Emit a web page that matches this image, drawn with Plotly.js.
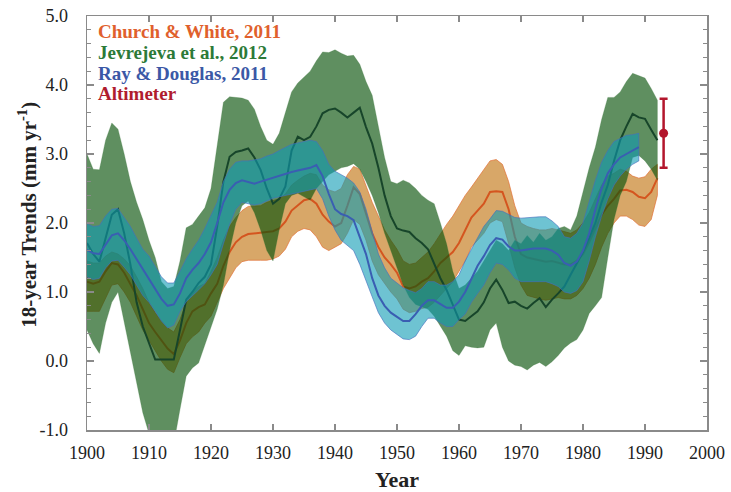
<!DOCTYPE html>
<html>
<head>
<meta charset="utf-8">
<script src="https://cdn.plot.ly/plotly-3.0.1.min.js"></script>
<style>html,body{margin:0;padding:0;background:#fff;}#chart{width:731px;height:492px;}</style>
</head>
<body>
<div id="chart"></div>
<script>
// ---------- data (18-year trends, mm/yr) ----------
const yearsLong = [1900,1901,1902,1903,1904,1905,1906,1907,1908,1909,1910,1911,1912,1913,1914,1915,1916,1917,1918,1919,1920,1921,1922,1923,1924,1925,1926,1927,1928,1929,1930,1931,1932,1933,1934,1935,1936,1937,1938,1939,1940,1941,1942,1943,1944,1945,1946,1947,1948,1949,1950,1951,1952,1953,1954,1955,1956,1957,1958,1959,1960,1961,1962,1963,1964,1965,1966,1967,1968,1969,1970,1971,1972,1973,1974,1975,1976,1977,1978,1979,1980,1981,1982,1983,1984,1985,1986,1987,1988,1989,1990,1991,1992];
const yearsRD = [1900,1901,1902,1903,1904,1905,1906,1907,1908,1909,1910,1911,1912,1913,1914,1915,1916,1917,1918,1919,1920,1921,1922,1923,1924,1925,1926,1927,1928,1929,1930,1931,1932,1933,1934,1935,1936,1937,1938,1939,1940,1941,1942,1943,1944,1945,1946,1947,1948,1949,1950,1951,1952,1953,1954,1955,1956,1957,1958,1959,1960,1961,1962,1963,1964,1965,1966,1967,1968,1969,1970,1971,1972,1973,1974,1975,1976,1977,1978,1979,1980,1981,1982,1983,1984,1985,1986,1987,1988,1989];

// Church & White, 2011
const cwMid = [1.15,1.12,1.15,1.30,1.42,1.40,1.28,1.12,0.95,0.75,
  0.55,0.42,0.30,0.18,0.10,0.30,0.55,0.72,0.78,0.82,
  0.98,1.12,1.38,1.58,1.72,1.80,1.84,1.85,1.85,1.86,
  1.88,1.92,2.02,2.18,2.26,2.33,2.35,2.28,2.12,2.02,
  1.95,2.00,2.25,2.52,2.42,2.15,1.85,1.65,1.50,1.40,
  1.28,1.08,1.05,1.08,1.15,1.20,1.30,1.42,1.50,1.58,
  1.71,1.90,2.08,2.18,2.28,2.45,2.46,2.45,2.20,1.80,
  1.55,1.50,1.48,1.45,1.44,1.45,1.43,1.40,1.40,1.45,
  1.55,1.72,1.92,2.12,2.25,2.35,2.47,2.48,2.45,2.38,
  2.36,2.45,2.65];
const cwLow = [0.72,0.72,0.72,0.90,1.10,1.12,1.00,0.85,0.65,0.45,
  0.30,0.15,0.00,-0.12,-0.17,0.05,0.25,0.35,0.42,0.55,
  0.65,0.85,1.05,1.20,1.35,1.44,1.46,1.46,1.46,1.46,
  1.48,1.52,1.62,1.80,1.88,1.92,1.90,1.80,1.65,1.60,
  1.65,1.70,1.85,2.05,1.98,1.75,1.45,1.25,1.12,1.00,
  0.90,0.75,0.70,0.72,0.76,0.78,0.85,0.95,1.05,1.15,
  1.30,1.45,1.65,1.75,1.85,2.00,2.05,2.02,1.70,1.35,
  1.10,0.95,0.92,0.90,0.88,0.90,0.92,0.90,0.90,0.95,
  1.05,1.20,1.40,1.65,1.85,2.00,2.10,2.10,2.05,1.97,
  1.95,2.05,2.40];
const cwHigh = [1.45,1.42,1.42,1.52,1.58,1.55,1.48,1.38,1.22,1.05,
  0.85,0.70,0.58,0.48,0.42,0.60,0.85,1.00,1.08,1.12,
  1.30,1.50,1.75,1.95,2.08,2.18,2.24,2.24,2.25,2.30,
  2.32,2.35,2.42,2.55,2.62,2.68,2.72,2.70,2.55,2.48,
  2.45,2.50,2.70,2.82,2.78,2.55,2.30,2.10,1.90,1.75,
  1.62,1.45,1.40,1.42,1.50,1.58,1.70,1.85,1.98,2.10,
  2.25,2.40,2.52,2.65,2.78,2.90,2.92,2.85,2.60,2.25,
  2.00,1.95,1.92,1.90,1.90,1.92,1.90,1.88,1.85,1.90,
  2.00,2.15,2.35,2.55,2.68,2.72,2.78,2.75,2.68,2.65,
  2.67,2.78,2.85];

// Jevrejeva et al., 2012
const jvMid = [1.71,1.55,1.44,1.80,2.12,2.20,1.85,1.40,0.85,0.50,
  0.25,0.02,0.02,0.02,0.02,0.45,0.89,1.00,1.13,1.22,
  1.40,1.95,2.60,2.96,3.03,3.05,3.08,2.95,2.77,2.50,
  2.28,2.35,2.53,3.05,3.25,3.20,3.25,3.40,3.59,3.64,
  3.66,3.60,3.53,3.60,3.67,3.39,3.15,2.80,2.40,2.10,
  1.92,1.89,1.87,1.78,1.71,1.62,1.40,1.20,1.03,0.82,
  0.60,0.58,0.65,0.72,0.85,1.05,1.18,1.03,0.84,0.86,
  0.80,0.76,0.84,0.91,0.78,0.89,0.98,1.08,1.25,1.42,
  1.58,1.78,2.00,2.30,2.55,2.90,3.20,3.40,3.58,3.53,
  3.51,3.35,3.20];
const jvLow = [0.45,0.25,0.11,0.55,0.85,1.00,0.55,0.10,-0.30,-0.75,
  -1.05,-1.30,-1.40,-1.40,-1.20,-0.70,-0.22,-0.10,-0.03,0.25,
  0.50,0.75,1.10,1.60,2.00,2.25,2.32,2.15,1.90,1.60,
  1.45,1.90,2.28,2.40,2.43,2.38,2.33,2.50,2.60,2.70,
  2.75,2.80,2.82,2.86,2.78,2.60,2.40,2.15,1.85,1.60,
  1.35,1.10,0.92,0.82,0.78,0.75,0.65,0.50,0.36,0.15,
  0.08,0.22,0.20,0.19,0.20,0.45,0.55,0.20,0.00,-0.06,
  -0.08,-0.13,-0.06,-0.02,-0.08,-0.01,0.08,0.19,0.26,0.31,
  0.45,0.69,0.80,0.92,1.50,2.05,2.40,2.60,2.95,2.98,
  2.90,2.78,2.62];
const jvHigh = [3.00,2.78,2.77,3.20,3.45,3.36,3.00,2.60,2.30,2.05,
  1.75,1.50,1.15,1.05,1.08,1.45,1.93,1.98,2.10,2.22,
  2.50,3.10,3.75,3.83,3.82,3.81,3.78,3.65,3.40,3.20,
  3.14,3.30,3.60,3.90,4.03,4.12,4.20,4.35,4.48,4.47,
  4.51,4.46,4.42,4.43,4.30,4.05,3.85,3.40,2.95,2.60,
  2.57,2.62,2.58,2.50,2.40,2.33,2.28,2.00,1.70,1.30,
  1.05,1.10,1.20,1.30,1.45,1.60,1.75,1.70,1.60,1.75,
  1.70,1.82,1.72,1.85,1.75,1.80,1.92,1.95,1.90,2.10,
  2.45,2.80,3.10,3.50,3.82,3.82,3.90,4.05,4.17,4.14,
  4.10,3.95,3.78];

// Ray & Douglas, 2011
const rdMid = [1.61,1.56,1.55,1.68,1.82,1.85,1.75,1.62,1.48,1.32,
  1.20,1.05,0.90,0.80,0.82,0.98,1.20,1.32,1.42,1.55,
  1.72,2.00,2.30,2.48,2.58,2.62,2.60,2.57,2.60,2.63,
  2.65,2.68,2.72,2.74,2.76,2.78,2.80,2.84,2.68,2.42,
  2.20,2.13,2.10,2.04,1.80,1.55,1.20,0.95,0.80,0.70,
  0.64,0.58,0.58,0.68,0.80,0.88,0.88,0.82,0.77,0.77,
  0.86,1.00,1.20,1.38,1.52,1.68,1.78,1.76,1.66,1.60,
  1.60,1.62,1.63,1.63,1.63,1.60,1.54,1.42,1.38,1.44,
  1.60,1.85,2.20,2.50,2.72,2.85,2.95,3.00,3.05,3.10];
const rdLow = [1.22,1.18,1.20,1.35,1.45,1.46,1.36,1.25,1.10,0.95,
  0.85,0.72,0.58,0.48,0.52,0.72,0.86,0.95,1.03,1.12,
  1.25,1.40,1.70,1.98,2.20,2.30,2.28,2.26,2.28,2.32,
  2.36,2.38,2.41,2.43,2.45,2.46,2.48,2.50,2.35,2.10,
  1.90,1.75,1.68,1.60,1.40,1.18,0.93,0.70,0.55,0.45,
  0.38,0.32,0.31,0.36,0.50,0.62,0.62,0.55,0.50,0.50,
  0.60,0.68,0.85,0.98,1.10,1.28,1.42,1.40,1.32,1.20,
  1.15,1.15,1.15,1.15,1.15,1.12,1.08,1.00,0.98,1.02,
  1.15,1.45,1.80,2.10,2.35,2.55,2.68,2.78,2.85,2.90];
const rdHigh = [1.99,1.95,1.96,2.10,2.20,2.21,2.08,1.95,1.78,1.62,
  1.52,1.38,1.22,1.13,1.13,1.30,1.48,1.62,1.75,1.92,
  2.10,2.30,2.60,2.78,2.88,2.90,2.90,2.91,2.93,2.97,
  3.00,3.05,3.10,3.14,3.16,3.18,3.20,3.18,3.05,2.85,
  2.75,2.70,2.65,2.58,2.45,2.20,1.88,1.55,1.35,1.20,
  1.13,1.06,1.02,0.99,1.05,1.15,1.15,1.10,1.10,1.15,
  1.25,1.45,1.62,1.78,1.95,2.06,2.18,2.17,2.12,2.08,
  2.07,2.08,2.08,2.09,2.09,2.03,1.95,1.80,1.78,1.85,
  2.00,2.30,2.62,2.88,3.05,3.18,3.23,3.27,3.28,3.30];

// Altimeter
const altYear = [1993];
const altRate = [3.3];
const altErr = [0.5];

// axis ticks
const xTicks = [1900,1910,1920,1930,1940,1950,1960,1970,1980,1990,2000];
const xTickText = ['1900','1910','1920','1930','1940','1950','1960','1970','1980','1990','2000'];
const yTicks = [-1,0,1,2,3,4,5];
const yTickText = ['-1.0','0.0','1.0','2.0','3.0','4.0','5.0'];

// legend entries and axis titles
const legendNames = ['Church & White, 2011','Jevrejeva et al., 2012','Ray & Douglas, 2011','Altimeter'];
const xTitle = 'Year';
const yTitle = '18-year Trends (mm yr<sup>-1</sup>)';

// ---------- build ----------
const FONT = 'Liberation Serif, Times New Roman, serif';
function band(x, lo, hi, fill, edge, ew) {
  return {
    x: x.concat(x.slice().reverse()),
    y: hi.concat(lo.slice().reverse()),
    type: 'scatter', mode: 'lines', fill: 'toself',
    fillcolor: fill, line: {color: edge, width: ew},
    hoverinfo: 'skip', showlegend: false
  };
}
function line(x, y, color) {
  return {x: x, y: y, type: 'scatter', mode: 'lines',
    line: {color: color, width: 2}, hoverinfo: 'skip', showlegend: false};
}

const traces = [
  band(yearsLong, cwLow, cwHigh, 'rgba(200,130,40,0.70)', 'rgba(225,110,50,0.85)', 0.8),
  line(yearsLong, cwMid, '#d4551f'),
  band(yearsLong, jvLow, jvHigh, 'rgba(9,83,11,0.65)', 'rgba(60,120,60,0.5)', 0.5),
  line(yearsLong, jvMid, '#17452a'),
  band(yearsRD, rdLow, rdHigh, 'rgba(13,155,180,0.60)', 'rgba(70,110,190,0.8)', 0.8),
  line(yearsRD, rdMid, '#3a5eb2'),
  {x: altYear, y: altRate, type: 'scatter', mode: 'markers',
   marker: {color: '#b3162c', size: 9},
   error_y: {type: 'data', array: altErr, visible: true, color: '#b3162c', thickness: 2.5, width: 4},
   hoverinfo: 'skip', showlegend: false}
];

const legendColors = ['#e0602c', '#2c7a38', '#3b58a6', '#b01c2e'];
const legendY = [4.77, 4.47, 4.17, 3.87];
const annotations = legendNames.map((t, i) => ({
  x: 1901.4, y: legendY[i], xref: 'x', yref: 'y', text: t,
  showarrow: false, xanchor: 'left', yanchor: 'middle',
  font: {family: FONT, size: 19, color: legendColors[i], weight: 'bold'}
}));
// y-axis title, placed as rotated text left of the tick labels
annotations.push({
  x: 0, y: 0.52, xref: 'paper', yref: 'paper', xshift: -59,
  text: yTitle, textangle: -90, showarrow: false,
  xanchor: 'center', yanchor: 'middle',
  font: {family: FONT, size: 21, color: '#222', weight: 'bold'}
});

const axisCommon = {
  showgrid: false, zeroline: false, showline: true, linecolor: '#8a8a8a', linewidth: 1.5,
  mirror: 'ticks', ticks: 'inside', tickcolor: '#8a8a8a', tickwidth: 1.2,
  tickfont: {family: FONT, size: 18, color: '#222'}
};

const layout = {
  width: 731, height: 492,
  margin: {l: 87, r: 24, t: 16, b: 62},
  paper_bgcolor: '#fff', plot_bgcolor: '#fff',
  showlegend: false,
  xaxis: Object.assign({}, axisCommon, {
    range: [1900, 2000], tickmode: 'array', tickvals: xTicks, ticktext: xTickText,
    ticklen: 6, ticklabelstandoff: 6,
    title: {text: xTitle, standoff: 9, font: {family: FONT, size: 22, color: '#222', weight: 'bold'}}
  }),
  yaxis: Object.assign({}, axisCommon, {
    range: [-1, 5], tickmode: 'array', tickvals: yTicks, ticktext: yTickText,
    ticklen: 7, ticklabelstandoff: 14,
    minor: {dtick: 0.2, tick0: 0, ticks: 'inside', ticklen: 4, tickcolor: '#8a8a8a', tickwidth: 1, showgrid: false}
  }),
  annotations: annotations
};

Plotly.newPlot('chart', traces, layout, {staticPlot: true, displayModeBar: false});
</script>
</body>
</html>
